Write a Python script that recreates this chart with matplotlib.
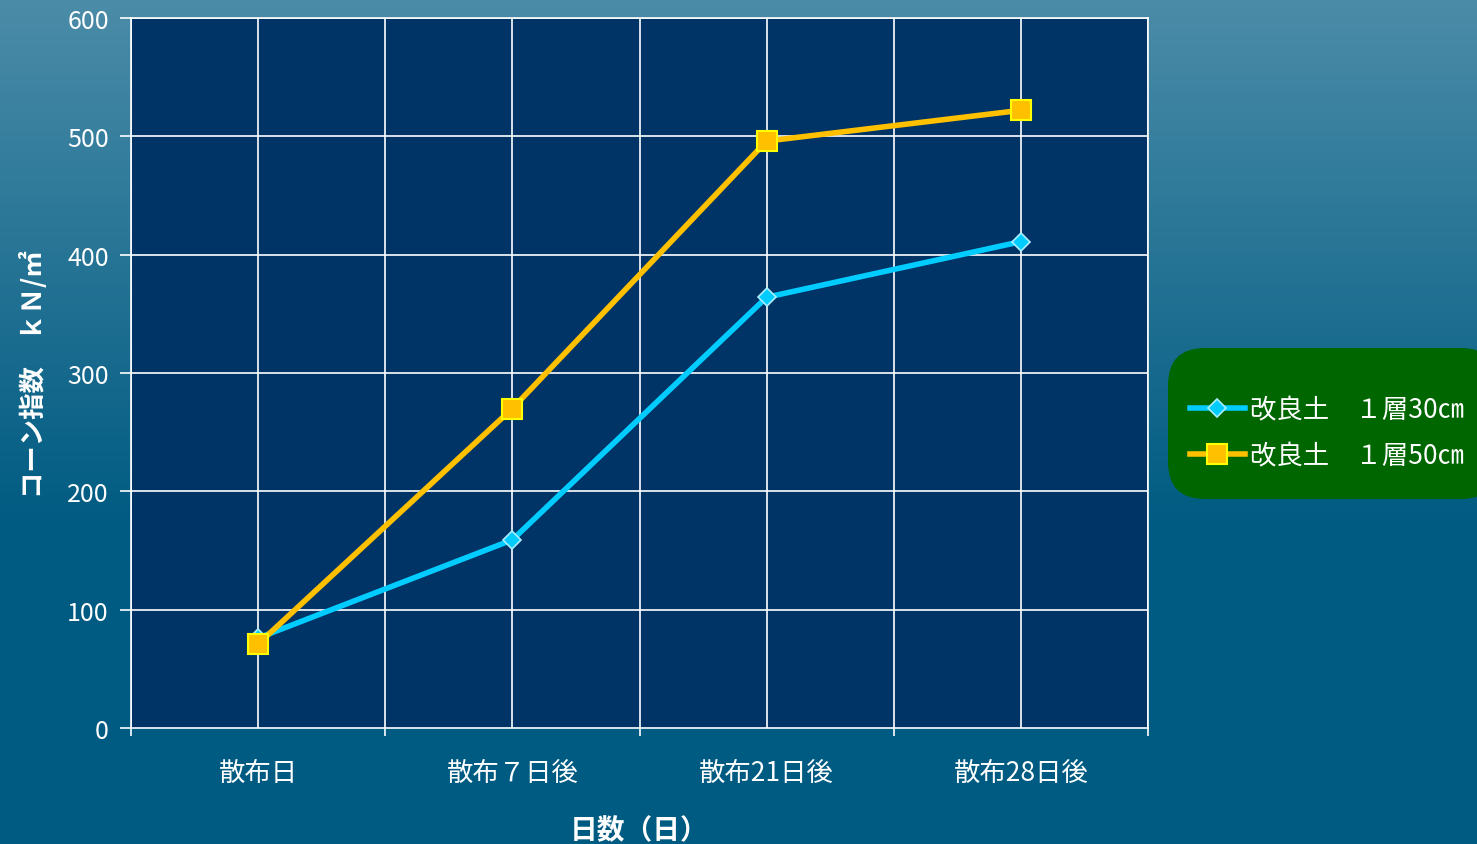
import numpy as np
import matplotlib.pyplot as plt
from matplotlib.patches import FancyBboxPatch

plt.rcParams['font.family'] = ['Noto Sans CJK JP', 'DejaVu Sans']

# --- data ---
categories = ["散布日", "散布７日後", "散布21日後", "散布28日後"]
series_names = ["改良土　１層30㎝", "改良土　１層50㎝"]
layer30 = [76, 159, 364, 411]
layer50 = [71, 270, 496, 522]

W, H = 1477, 845
fig = plt.figure(figsize=(W / 100, H / 100), dpi=100)

# --- gradient background ---
bg = fig.add_axes([0, 0, 1, 1], zorder=-10)
grad = np.linspace(0, 1, 256).reshape(-1, 1)
top = np.array([0x4b, 0x8c, 0xa8]) / 255
bot = np.array([0x00, 0x5b, 0x82]) / 255
img = top + (bot - top) * np.clip(grad * 1.6, 0, 1)[..., None]
img = np.repeat(img, 2, axis=1)
bg.imshow(img, aspect='auto', extent=[0, 1, 0, 1], origin='upper')
bg.set_axis_off()

# --- plot area ---
ax = fig.add_axes([131 / W, 1 - 729 / H, (1148 - 131) / W, (729 - 19) / H])
ax.set_facecolor('#003366')
x = np.arange(len(categories))

ax.plot(x, layer30, color='#00ccff', lw=4, marker='D', ms=9,
        mfc='#00ccff', mec='#aaeeff', mew=1.2, label=series_names[0], zorder=3)
ax.plot(x, layer50, color='#ffc000', lw=4, marker='s', ms=14,
        mfc='#ffc000', mec='#ffff00', mew=1.5, label=series_names[1], zorder=4)

ax.set_xlim(-0.5, 3.5)
ax.set_ylim(0, 600)
ax.set_yticks(np.arange(0, 601, 100))
ax.set_xticks(x)
ax.set_xticklabels(categories)
ax.set_xticks(np.arange(-0.5, 3.6, 1), minor=True)

for xv in np.arange(-0.5, 3.6, 0.5):
    ax.axvline(xv, color='white', lw=1.2, zorder=1)
for yv in np.arange(100, 601, 100):
    ax.axhline(yv, color='white', lw=1.2, zorder=1)

for s in ax.spines.values():
    s.set_color('white')
    s.set_linewidth(1.2)

ax.tick_params(axis='x', which='major', length=0, pad=22, labelsize=19, colors='white')
ax.tick_params(axis='x', which='minor', length=6, width=1.2, color='white', direction='out')
ax.tick_params(axis='y', length=8, width=1.2, colors='white', labelsize=18, pad=8)

ax.set_xlabel("日数（日）", color='white', fontsize=20, fontweight='bold', labelpad=22)
ax.set_ylabel("コーン指数　ｋＮ/㎡", color='white', fontsize=19, fontweight='bold', labelpad=14)

# --- legend ---
box = FancyBboxPatch((1168 / W, 1 - 500 / H), 330 / W, 151 / H,
                     boxstyle='round,pad=0,rounding_size=0.025',
                     transform=fig.transFigure, facecolor='#006600',
                     edgecolor='none', zorder=5, mutation_aspect=W / H)
fig.patches.append(box)
leg = fig.legend(loc='center left', bbox_to_anchor=(1166 / W, 1 - 434 / H),
                 frameon=False, fontsize=19, handlelength=2.1, handletextpad=0.2,
                 labelspacing=0.72, labelcolor='white')
leg.set_zorder(6)

fig.savefig('out.png', dpi=100)
